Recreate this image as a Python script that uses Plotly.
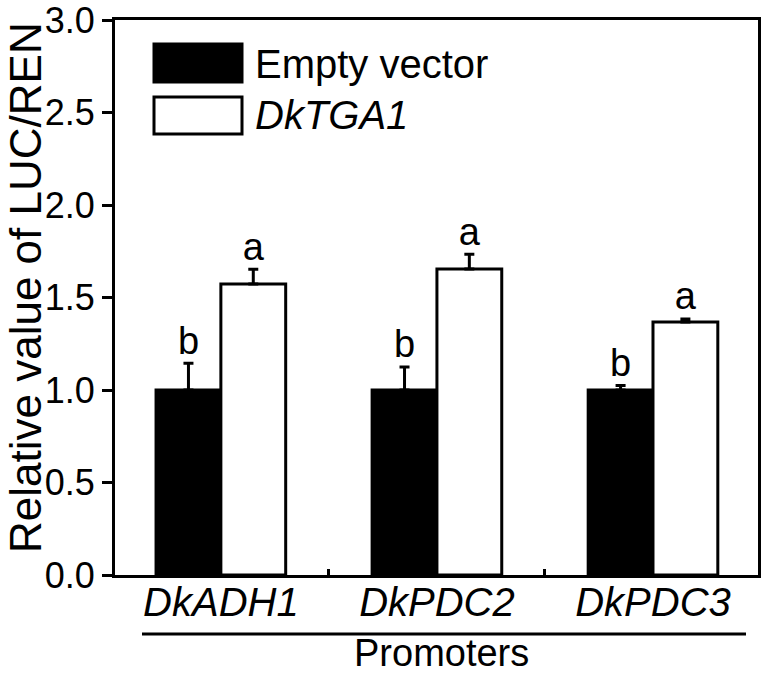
import plotly.graph_objects as go

# ---- data ----
promoters = ["DkADH1", "DkPDC2", "DkPDC3"]
series_names = ["Empty vector", "DkTGA1"]
empty_vals = [1.0, 1.0, 1.0]
empty_err = [0.145, 0.125, 0.025]
tga1_vals = [1.573, 1.654, 1.368]
tga1_err = [0.08, 0.08, 0.016]
empty_letters = ["b", "b", "b"]
tga1_letters = ["a", "a", "a"]
y_ticks = [0.0, 0.5, 1.0, 1.5, 2.0, 2.5, 3.0]
y_title = "Relative value of LUC/REN"
x_title = "Promoters"

FONT = "Liberation Sans, Arial, sans-serif"
BW = 0.3
idx = list(range(len(promoters)))
x_empty = [i - BW / 2 for i in idx]
x_tga1 = [i + BW / 2 for i in idx]

fig = go.Figure()
fig.add_trace(go.Bar(
    x=x_empty, y=empty_vals, width=BW, name=series_names[0],
    marker=dict(color="black", line=dict(color="black", width=3)),
    error_y=dict(type="data", symmetric=False, array=empty_err,
                 arrayminus=[0] * len(empty_err), color="black", thickness=3, width=5),
    showlegend=False,
))
fig.add_trace(go.Bar(
    x=x_tga1, y=tga1_vals, width=BW, name=series_names[1],
    marker=dict(color="white", line=dict(color="black", width=3)),
    error_y=dict(type="data", symmetric=False, array=tga1_err,
                 arrayminus=[0] * len(tga1_err), color="black", thickness=3, width=5),
    showlegend=False,
))
# significance letters
fig.add_trace(go.Scatter(
    x=x_empty + x_tga1,
    y=[v + e for v, e in zip(empty_vals, empty_err)] + [v + e for v, e in zip(tga1_vals, tga1_err)],
    text=empty_letters + tga1_letters, mode="text", textposition="top center",
    textfont=dict(family=FONT, size=38, color="black"), showlegend=False, hoverinfo="skip",
))

# plot area in page pixels: x 115..758, y 20..575
fig.update_layout(
    width=766, height=674,
    margin=dict(l=115, r=8, t=20, b=99, autoexpand=False),
    plot_bgcolor="white", paper_bgcolor="white",
    barmode="overlay",
    font=dict(family=FONT, color="black"),
)
fig.update_xaxes(
    range=[-0.49, 2.486],
    tickvals=idx, ticktext=[f"<i>{p}</i>" for p in promoters],
    ticks="", ticklen=0, tickfont=dict(size=40), ticklabelstandoff=-10,
    ticklabeloverflow="allow",
    showline=True, linecolor="black", linewidth=3, mirror=True,
    showgrid=False, zeroline=False,
    minor=dict(tickvals=[0.5, 1.5], ticks="inside", ticklen=6, tickwidth=3, tickcolor="black"),
)
fig.update_yaxes(
    range=[0, 3.0001], tickvals=y_ticks, tickformat=".1f",
    ticks="outside", ticklen=10, tickwidth=3, tickcolor="black",
    tickfont=dict(size=36), ticklabeloverflow="allow",
    showline=True, linecolor="black", linewidth=3, mirror=True,
    showgrid=False, zeroline=False,
)

def px_x(p):
    return (p - 115) / 643

def px_y(p):
    return (575 - p) / 555

# y-axis title
fig.add_annotation(xref="paper", yref="paper", x=px_x(25), y=px_y(288),
                   text=y_title, textangle=-90, showarrow=False,
                   xanchor="center", yanchor="middle", font=dict(size=44, family=FONT))

# legend drawn as boxes + text
fig.add_shape(type="rect", xref="paper", yref="paper",
              x0=px_x(154), x1=px_x(242), y0=px_y(82), y1=px_y(44),
              fillcolor="black", line=dict(color="black", width=3))
fig.add_shape(type="rect", xref="paper", yref="paper",
              x0=px_x(154), x1=px_x(242), y0=px_y(134), y1=px_y(97),
              fillcolor="white", line=dict(color="black", width=3))
fig.add_annotation(xref="paper", yref="paper", x=px_x(253), y=px_y(64),
                   text=series_names[0], showarrow=False, xanchor="left", yanchor="middle",
                   font=dict(size=40, family=FONT))
fig.add_annotation(xref="paper", yref="paper", x=px_x(253), y=px_y(115),
                   text=f"<i>{series_names[1]}</i>", showarrow=False, xanchor="left", yanchor="middle",
                   font=dict(size=40, family=FONT))

# bracket line and group title
fig.add_shape(type="line", xref="paper", yref="paper",
              x0=px_x(142), x1=px_x(746), y0=px_y(634), y1=px_y(634),
              line=dict(color="black", width=3))
fig.add_annotation(xref="paper", yref="paper", x=px_x(441), y=px_y(653),
                   text=x_title, showarrow=False, xanchor="center", yanchor="middle",
                   font=dict(size=38, family=FONT))

# remove the default 8px page margin so the figure fills the window exactly
fig.write_html("out.html", config={"displayModeBar": False},
               post_script="document.body.style.margin='0';")
